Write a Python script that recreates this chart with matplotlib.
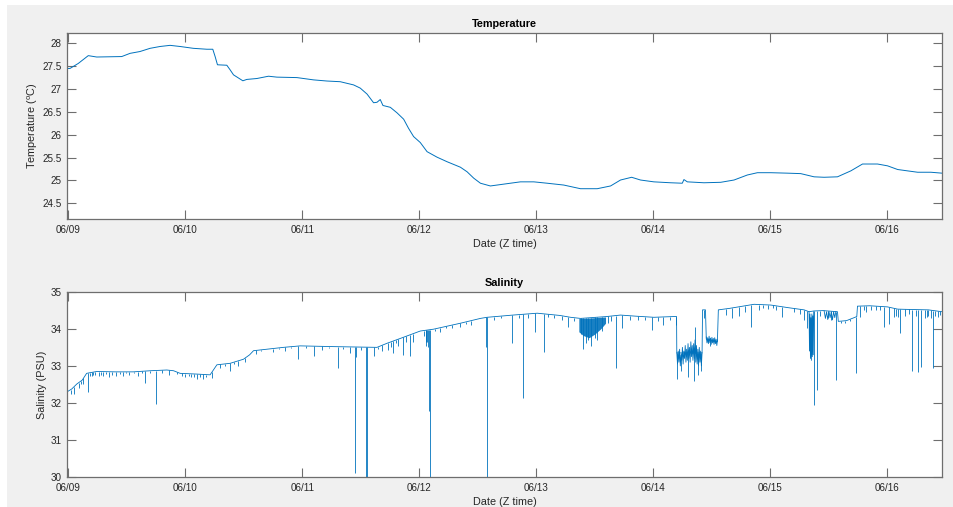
import numpy as np
import matplotlib
matplotlib.use("Agg")
import matplotlib.pyplot as plt
from matplotlib.patches import Rectangle

plt.rcParams["font.family"] = ["Liberation Sans", "DejaVu Sans"]
plt.rcParams["mathtext.fontset"] = "custom"
plt.rcParams["mathtext.rm"] = "Liberation Sans"
plt.rcParams["mathtext.it"] = "Liberation Sans:italic"

# time axis: days since 06/09 00:00 (Z)
day_ticks = [0, 1, 2, 3, 4, 5, 6, 7]
day_labels = ["06/09", "06/10", "06/11", "06/12", "06/13", "06/14", "06/15", "06/16"]
t_start, t_end = -0.011, 7.466

# ---- temperature record ----
temp_t = [-0.011, 0.015, 0.086, 0.171, 0.243, 0.457, 0.528, 0.613, 0.699, 0.784,
          0.870, 0.956, 1.069, 1.184, 1.235, 1.255, 1.275, 1.355, 1.383, 1.412,
          1.492, 1.526, 1.612, 1.711, 1.783, 1.954, 2.096, 2.210, 2.324, 2.438,
          2.495, 2.553, 2.609, 2.638, 2.666, 2.689, 2.752, 2.809, 2.866, 2.908,
          2.951, 3.008, 3.066, 3.151, 3.237, 3.351, 3.408, 3.465, 3.522, 3.607,
          3.721, 3.864, 3.978, 4.092, 4.234, 4.377, 4.520, 4.634, 4.719, 4.814,
          4.890, 5.004, 5.147, 5.247, 5.261, 5.290, 5.432, 5.575, 5.689, 5.803,
          5.889, 6.003, 6.145, 6.259, 6.373, 6.459, 6.573, 6.687, 6.787, 6.915,
          7.001, 7.087, 7.172, 7.258, 7.371, 7.466]
temp_v = [27.45, 27.45, 27.56, 27.73, 27.70, 27.71, 27.78, 27.82, 27.89, 27.93,
          27.955, 27.93, 27.89, 27.87, 27.87, 27.71, 27.53, 27.52, 27.42, 27.31,
          27.18, 27.21, 27.23, 27.28, 27.26, 27.25, 27.20, 27.175, 27.16, 27.09,
          27.02, 26.89, 26.70, 26.71, 26.77, 26.64, 26.60, 26.48, 26.34, 26.14,
          25.96, 25.83, 25.63, 25.51, 25.41, 25.29, 25.19, 25.05, 24.94, 24.88,
          24.92, 24.97, 24.97, 24.94, 24.90, 24.82, 24.82, 24.88, 25.01, 25.07,
          25.01, 24.97, 24.95, 24.94, 25.02, 24.97, 24.95, 24.96, 25.01, 25.12,
          25.17, 25.17, 25.16, 25.15, 25.08, 25.07, 25.08, 25.21, 25.36, 25.36,
          25.32, 25.24, 25.21, 25.18, 25.18, 25.16]

# ---- salinity record: underlying trace ----
sal_t = [-0.011, 0.030, 0.072, 0.120, 0.157, 0.243, 0.400, 0.556, 0.700, 0.842,
         0.900, 0.956, 1.100, 1.212, 1.240, 1.270, 1.383, 1.497, 1.550, 1.583,
         1.697, 1.839, 1.982, 2.267, 2.638, 2.724, 2.837, 3.008, 3.122, 3.351,
         3.522, 3.579, 3.800, 4.007, 4.200, 4.292, 4.377, 4.600, 4.719, 4.850,
         5.004, 5.175, 5.198, 5.200, 5.416, 5.420,
         5.445, 5.452, 5.500, 5.547, 5.555, 5.650, 5.860, 6.003, 6.150, 6.288,
         6.330, 6.370, 6.450, 6.573, 6.580, 6.650, 6.715, 6.738, 6.744, 6.850,
         7.001, 7.087, 7.200, 7.350, 7.466]
sal_v = [32.30, 32.38, 32.51, 32.62, 32.80, 32.85, 32.84, 32.84, 32.87, 32.89,
         32.87, 32.80, 32.78, 32.76, 32.89, 33.03, 33.07, 33.18, 33.30, 33.41,
         33.45, 33.50, 33.54, 33.52, 33.50, 33.61, 33.74, 33.94, 33.99, 34.15,
         34.28, 34.31, 34.37, 34.42, 34.36, 34.31, 34.28, 34.33, 34.37, 34.34,
         34.31, 34.33, 34.33, 33.35, 33.35, 34.51,
         34.51, 33.72, 33.68, 33.65, 34.51, 34.55, 34.66, 34.64, 34.57, 34.51,
         34.46, 34.48, 34.49, 34.46, 34.20, 34.22, 34.30, 34.33, 34.61, 34.62,
         34.59, 34.53, 34.52, 34.51, 34.46]

# short dropouts: time and lowest reading of each
spike_t = [0.020, 0.050, 0.090, 0.110, 0.130, 0.166, 0.185, 0.200, 0.215, 0.230,
           0.260, 0.280, 0.300, 0.320, 0.345, 0.370, 0.410, 0.440, 0.470, 0.495,
           0.520, 0.560, 0.600, 0.630, 0.656, 0.700, 0.747, 0.800, 0.860, 0.930,
           0.970, 1.000, 1.030, 1.050, 1.075, 1.098, 1.130, 1.150, 1.180, 1.227,
           1.300, 1.340, 1.383, 1.420, 1.450, 1.512, 1.600, 1.650, 1.748, 1.800,
           1.850, 1.900, 1.959, 2.030, 2.096, 2.170, 2.230, 2.304, 2.350, 2.404,
           2.447, 2.458, 2.500, 2.544, 2.552, 2.609, 2.650, 2.680, 2.729, 2.760,
           2.775, 2.800, 2.820, 2.861, 2.890, 2.923, 2.950, 3.040, 3.054, 3.060,
           3.066, 3.072, 3.080, 3.088, 3.130, 3.180, 3.230, 3.278, 3.350, 3.400,
           3.440, 3.573, 3.578, 3.640, 3.700, 3.793, 3.850, 3.887, 3.930, 3.992,
           4.069, 4.100, 4.150, 4.220, 4.269, 4.320, 4.380, 4.400, 4.420, 4.445,
           4.470, 4.500, 4.520, 4.560, 4.610, 4.640, 4.677, 4.734, 4.800, 4.866,
           4.930, 4.990, 5.040, 5.085, 5.140, 5.190, 5.205, 5.240, 5.300, 5.345,
           5.352, 5.380, 5.405, 5.430, 5.480, 5.618, 5.669, 5.730, 5.780, 5.837,
           5.900, 5.940, 5.980, 6.020, 6.050, 6.103, 6.200, 6.250, 6.288, 6.310,
           6.373, 6.396, 6.420, 6.490, 6.520, 6.559, 6.600, 6.640, 6.680, 6.730,
           6.767, 6.800, 6.820, 6.860, 6.900, 6.940, 6.972, 7.010, 7.060, 7.075,
           7.090, 7.109, 7.150, 7.180, 7.214, 7.240, 7.257, 7.286, 7.320, 7.340,
           7.350, 7.370, 7.391, 7.410, 7.430, 7.450]
spike_lo = [32.25, 32.25, 32.40, 32.50, 32.50, 32.31, 32.74, 32.73, 32.75, 32.76,
            32.72, 32.76, 32.74, 32.78, 32.70, 32.76, 32.74, 32.78, 32.72, 32.80,
            32.75, 32.80, 32.73, 32.80, 32.53, 32.80, 31.97, 32.80, 32.76, 32.78,
            32.72, 32.70, 32.72, 32.70, 32.70, 32.64, 32.70, 32.66, 32.70, 32.67,
            32.95, 33.00, 32.85, 33.05, 33.00, 33.10, 33.32, 33.40, 33.38, 33.45,
            33.40, 33.48, 33.19, 33.48, 33.28, 33.42, 33.48, 32.94, 33.45, 33.36,
            30.11, 33.24, 33.44, 29.98, 29.98, 33.28, 33.45, 33.40, 33.43, 33.52,
            33.34, 33.62, 33.55, 33.29, 33.65, 33.28, 33.65, 33.80, 33.65, 33.55,
            33.65, 33.50, 31.79, 29.98, 33.95, 33.92, 34.02, 34.01, 34.05, 34.12,
            34.10, 33.52, 29.98, 34.25, 34.28, 33.61, 34.30, 32.14, 34.28, 33.92,
            33.38, 34.32, 34.30, 34.25, 34.06, 34.20, 33.85, 33.45, 33.62, 33.70,
            33.55, 33.75, 33.70, 33.95, 34.15, 34.20, 32.95, 34.01, 34.25, 34.24,
            34.25, 33.97, 34.22, 34.10, 34.25, 34.10, 32.65, 32.85, 32.70, 32.60,
            34.06, 32.75, 32.85, 34.30, 33.55, 34.37, 34.28, 34.35, 34.45, 34.06,
            34.50, 34.55, 34.52, 34.55, 34.50, 34.33, 34.45, 34.40, 34.24, 34.01,
            31.95, 32.35, 34.35, 34.30, 34.25, 32.62, 34.15, 34.15, 34.20, 32.80,
            34.33, 34.50, 34.45, 34.50, 34.50, 34.50, 34.06, 34.12, 34.33, 34.35,
            34.33, 33.88, 34.35, 34.40, 32.86, 34.35, 32.83, 32.98, 34.30, 34.32,
            34.35, 34.30, 32.94, 34.35, 34.32, 34.38]

# bursts of rapid fluctuation
burst_a_t = [4.363, 4.400, 4.450, 4.500, 4.550, 4.591]
burst_a_hi = [34.28, 34.28, 34.29, 34.30, 34.31, 34.32]
burst_a_lo = [33.92, 33.82, 33.76, 33.86, 34.00, 34.15]

burst_b_t = [5.200, 5.206, 5.212, 5.218, 5.224, 5.230, 5.236, 5.242, 5.248, 5.254,
             5.260, 5.266, 5.272, 5.278, 5.284, 5.290, 5.296, 5.302, 5.308, 5.314,
             5.320, 5.326, 5.332, 5.338, 5.344, 5.350, 5.356, 5.362, 5.368, 5.374,
             5.380, 5.386, 5.392, 5.398, 5.404, 5.410, 5.416]
burst_b_v = [33.35, 33.05, 33.40, 33.10, 33.45, 33.00, 33.30, 33.15, 33.50, 33.05,
             33.40, 33.20, 33.55, 33.10, 33.45, 33.15, 33.60, 33.20, 33.50, 33.10,
             33.65, 33.25, 33.55, 33.15, 33.60, 33.20, 33.70, 33.10, 33.55, 33.05,
             33.45, 33.00, 33.50, 33.10, 33.40, 33.00, 33.35]

burst_c_t = [5.452, 5.458, 5.464, 5.470, 5.476, 5.482, 5.488, 5.494, 5.500, 5.506,
             5.512, 5.518, 5.524, 5.530, 5.536, 5.542, 5.547]
burst_c_v = [33.78, 33.62, 33.76, 33.60, 33.80, 33.63, 33.75, 33.58, 33.77, 33.62,
             33.74, 33.58, 33.76, 33.60, 33.72, 33.55, 33.70]

burst_d_t = [6.330, 6.334, 6.338, 6.342, 6.346, 6.350, 6.354, 6.358, 6.362, 6.366,
             6.370]
burst_d_v = [34.46, 33.40, 34.40, 33.20, 34.30, 33.15, 34.40, 33.25, 34.35, 33.30,
             34.46]

burst_e_t = [6.459, 6.470, 6.480, 6.490, 6.500, 6.510, 6.520, 6.530, 6.540, 6.550,
             6.559]
burst_e_v = [34.48, 34.28, 34.46, 34.25, 34.47, 34.30, 34.45, 34.24, 34.46, 34.30,
             34.46]

LINE = "#0072BD"
AXC = "#6e6e6e"
TXT = "#262626"
LW = 0.6

fig = plt.figure(figsize=(9.54, 5.07), dpi=100, facecolor="white")
fig.patches.append(Rectangle((7 / 954, 0), 1 - 7 / 954, 1 - 5 / 507,
                             transform=fig.transFigure, facecolor="#f0f0f0",
                             edgecolor="none", zorder=-10))

ax1 = fig.add_axes([0.0702, 0.568, 0.9172, 0.3669])
ax2 = fig.add_axes([0.0702, 0.0586, 0.9172, 0.3661])


def style(ax):
    ax.set_facecolor("white")
    for s in ax.spines.values():
        s.set_color(AXC)
        s.set_linewidth(0.9)
    ax.tick_params(direction="in", length=6.3, width=0.8, color=AXC,
                   labelcolor=TXT, labelsize=7.1, top=True, right=True, pad=4)
    ax.set_xticks(day_ticks)
    ax.set_xticklabels(day_labels)
    ax.set_xlim(t_start, t_end)


ax1.plot(temp_t, temp_v, color=LINE, lw=0.7)
style(ax1)
ax1.set_ylim(24.157, 28.225)
ax1.set_yticks([24.5, 25, 25.5, 26, 26.5, 27, 27.5, 28])
ax1.set_yticklabels(["24.5", "25", "25.5", "26", "26.5", "27", "27.5", "28"])
ax1.set_title("Temperature", fontsize=7.8, fontweight="bold", color="black", pad=4)
ax1.set_xlabel("Date (Z time)", fontsize=7.8, color=TXT, labelpad=3)
ax1.set_ylabel(r"Temperature ($^{\mathrm{o}}$C)", fontsize=7.8, color=TXT, labelpad=1.5)

# salinity
ax2.plot(sal_t, sal_v, color=LINE, lw=LW)
base = np.interp(spike_t, sal_t, sal_v)
ax2.vlines(spike_t, spike_lo, base, color=LINE, lw=LW)
ax2.fill_between(burst_a_t, burst_a_lo, burst_a_hi, color=LINE, lw=0, alpha=0.9)
for bt, bv in [(burst_b_t, burst_b_v), (burst_c_t, burst_c_v),
               (burst_d_t, burst_d_v), (burst_e_t, burst_e_v)]:
    ax2.plot(bt, bv, color=LINE, lw=LW)
style(ax2)
ax2.set_ylim(30, 35)
ax2.set_yticks([30, 31, 32, 33, 34, 35])
ax2.set_title("Salinity", fontsize=7.8, fontweight="bold", color="black", pad=4)
ax2.set_xlabel("Date (Z time)", fontsize=7.8, color=TXT, labelpad=3)
ax2.set_ylabel("Salinity (PSU)", fontsize=7.8, color=TXT, labelpad=2.5)

fig.savefig("out.png", dpi=100, facecolor=fig.get_facecolor())
